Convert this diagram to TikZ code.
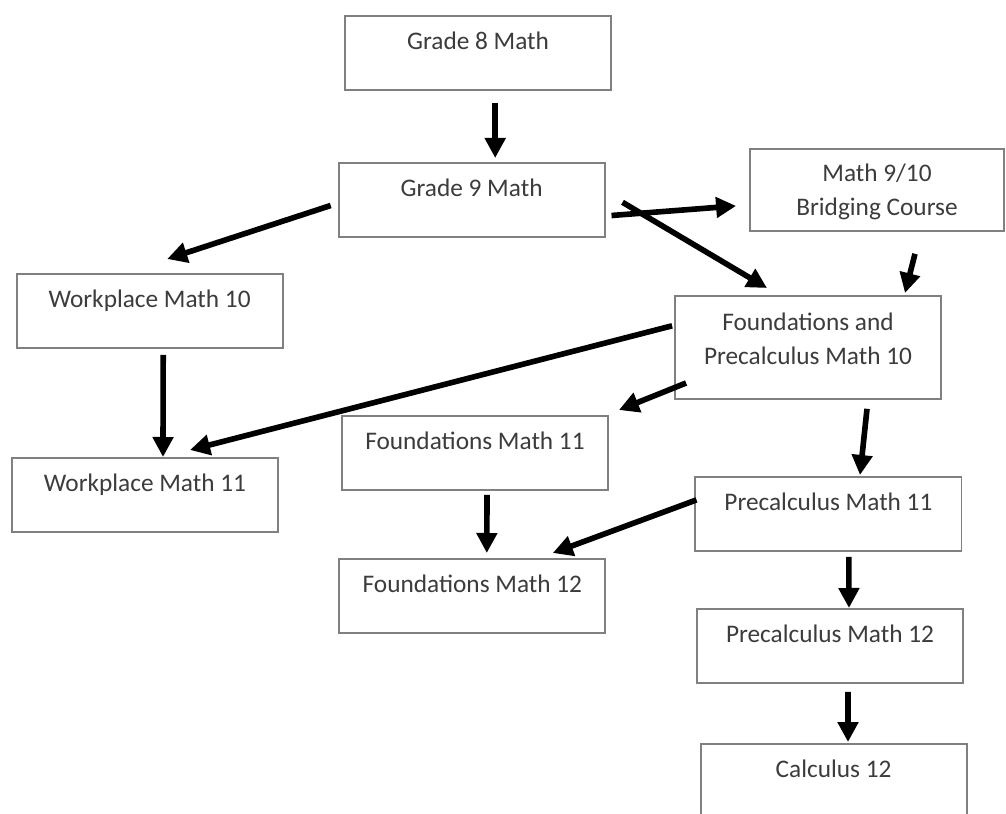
\documentclass[tikz,border=0pt]{standalone}
\usepackage{fontspec}
\setmainfont{Carlito}
\usetikzlibrary{arrows.meta}
\definecolor{boxgray}{RGB}{128,128,128}
\definecolor{textgray}{RGB}{60,60,60}
\begin{document}
\begin{tikzpicture}[font=\fontsize{18}{24}\selectfont,
    box/.style={draw=boxgray,line width=1.3pt,text=textgray,anchor=north,minimum width=6.65cm,inner ysep=0pt,text height=0.85cm,text depth=1cm},
    arr/.style={line width=4pt,-{Triangle[length=0.5cm,width=0.5cm]}}]
    \useasboundingbox (0,0) rectangle (25.15,20.325);
    \fill[white] (0,0) rectangle (25.15,20.325);

    \node[box] (g8) at (11.95,19.95) {Grade 8 Math};
    \node[box] (g9) at (11.79,16.275) {Grade 9 Math};
    \node[box,minimum width=6.35cm,text height=0.825cm,text depth=1.225cm] (bridge) at (21.925,16.625) {\begin{tabular}[t]{@{}c@{}}Math 9/10\\Bridging Course\end{tabular}};
    \node[box] (wp10) at (3.74,13.5) {Workplace Math 10};
    \node[box,text height=0.875cm,text depth=1.7cm] (fp10) at (20.2,12.95) {\begin{tabular}[t]{@{}c@{}}Foundations and\\Precalculus Math 10\end{tabular}};
    \node[box] (f11) at (11.875,9.95) {Foundations Math 11};
    \node[box] (wp11) at (3.625,8.9) {Workplace Math 11};
    \node[box] (p11) at (20.71,8.425) {Precalculus Math 11};
    \node[box] (f12) at (11.81,6.375) {Foundations Math 12};
    \node[box] (p12) at (20.75,5.125) {Precalculus Math 12};
    \node[box] (c12) at (20.84,1.75) {Calculus 12};

    \draw[arr] ([xshift=0.43cm,yshift=-0.3cm]g8.south) -- ([xshift=0.59cm,yshift=0.1cm]g9.north);
    \draw[arr] ([xshift=0.15cm,yshift=-0.39cm]g9.east) -- ([xshift=-0.325cm,yshift=-0.4cm]bridge.west);
    \draw[arr] ([xshift=0.425cm,yshift=-0.06cm]g9.east) -- ([xshift=-1.025cm,yshift=0.175cm]fp10.north);
    \draw[arr] ([xshift=-0.175cm,yshift=-0.14cm]g9.west) -- ([xshift=0.44cm,yshift=0.35cm]wp10.north);
    \draw[arr] ([xshift=0.95cm,yshift=-0.55cm]bridge.south) -- ([xshift=2.425cm,yshift=0.05cm]fp10.north);
    \draw[arr] ([xshift=0.34cm,yshift=-0.15cm]wp10.south) -- ([xshift=0.45cm]wp11.north);
    \draw[arr] ([xshift=-0.05cm,yshift=0.54cm]fp10.west) -- ([xshift=1.125cm,yshift=0.175cm]wp11.north);
    \draw[arr] ([xshift=0.3cm,yshift=-0.89cm]fp10.west) -- ([xshift=0.25cm,yshift=0.125cm]f11.north east);
    \draw[arr] ([xshift=1.475cm,yshift=-0.225cm]fp10.south) -- ([xshift=0.79cm,yshift=0.025cm]p11.north);
    \draw[arr] ([xshift=0.3cm,yshift=-0.1cm]f11.south) -- ([xshift=0.36cm,yshift=0.125cm]f12.north);
    \draw[arr] ([xshift=0.05cm,yshift=0.35cm]p11.west) -- ([xshift=2.01cm,yshift=0.125cm]f12.north);
    \draw[arr] ([xshift=0.51cm,yshift=-0.125cm]p11.south) -- ([xshift=0.475cm]p12.north);
    \draw[arr] ([xshift=0.45cm,yshift=-0.2cm]p12.south) -- ([xshift=0.36cm,yshift=0.025cm]c12.north);
\end{tikzpicture}
\end{document}
